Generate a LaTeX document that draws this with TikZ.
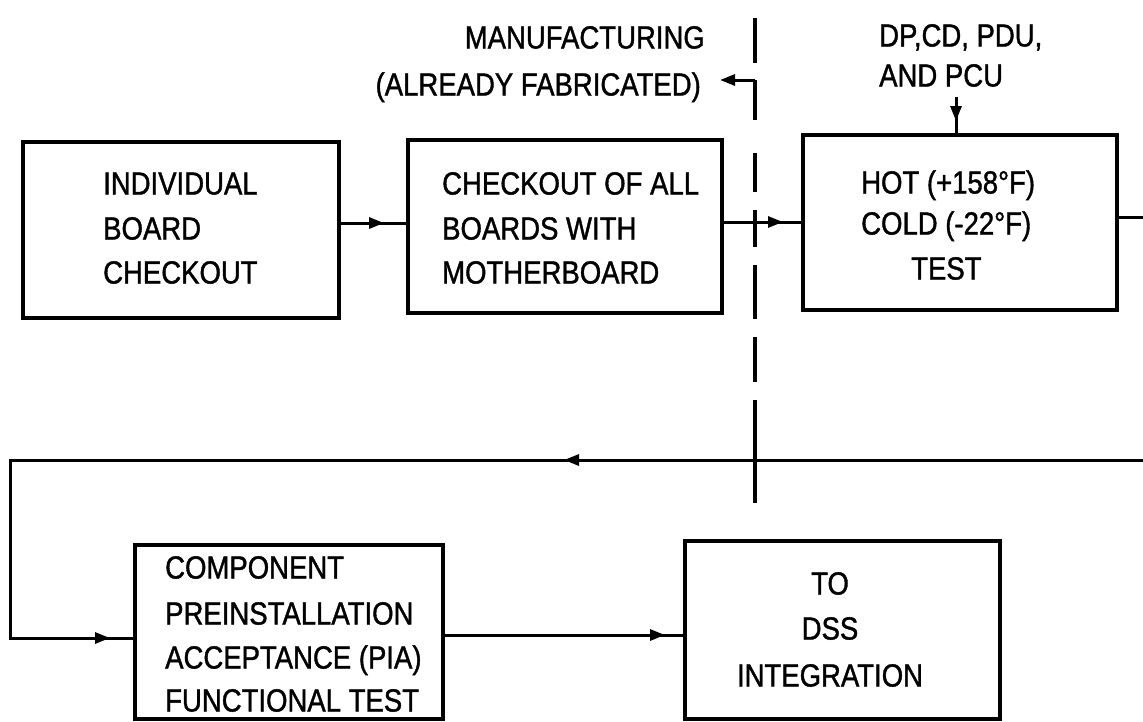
\documentclass[tikz,border=0pt]{standalone}
\usepackage{fontspec}
\setmainfont{Liberation Sans}[FakeStretch=0.86,FakeBold=1.2]
\usetikzlibrary{arrows.meta,decorations.markings}
\tikzset{
  box/.style={draw, line width=4pt, rectangle, inner sep=0pt},
  txt/.style={inner sep=0pt, text height=23pt, text depth=0pt, font=\fontsize{32}{40}\selectfont},
  conn/.style={line width=3pt},
  tipat/.style={postaction={decorate}, decoration={markings, mark=at position #1 with {\arrow{Triangle[length=15pt,width=11pt]}}}},
  divider/.style={line width=3.2pt}
}
\begin{document}
\begin{tikzpicture}[x=1pt,y=-1pt]
\useasboundingbox (0,0) rectangle (1143,721);
% boxes
\node[box, minimum width=316pt, minimum height=176pt] (b1) at (181,230) {};
\node[box, minimum width=314pt, minimum height=173pt] (b2) at (565,226.5) {};
\node[box, minimum width=314pt, minimum height=175pt] (b3) at (960,222.5) {};
\node[box, minimum width=308pt, minimum height=174pt] (b4) at (289,632) {};
\node[box, minimum width=315pt, minimum height=178pt] (b5) at (842.5,630) {};
% box texts
\node[txt, anchor=west] (t11) at (103,183) {INDIVIDUAL};
\node[txt, anchor=west] (t12) at (103,228) {BOARD};
\node[txt, anchor=west] (t13) at (103,272) {CHECKOUT};
\node[txt, anchor=west] (t21) at (442,183) {CHECKOUT OF ALL};
\node[txt, anchor=west] (t22) at (442,228) {BOARDS WITH};
\node[txt, anchor=west] (t23) at (442,272) {MOTHERBOARD};
\node[txt, anchor=west] (t31) at (861,182) {HOT (+158°F)};
\node[txt, anchor=west] (t32) at (861,223) {COLD (-22°F)};
\node[txt, anchor=west] (t33) at (911,268) {TEST};
\node[txt, anchor=west] (t41) at (165,567) {COMPONENT};
\node[txt, anchor=west] (t42) at (165,613) {PREINSTALLATION};
\node[txt, anchor=west] (t43) at (165,657) {ACCEPTANCE (PIA)};
\node[txt, anchor=west] (t44) at (165,700) {FUNCTIONAL TEST};
\node[txt] (t51) at (830,583) {TO};
\node[txt] (t52) at (830,628) {DSS};
\node[txt] (t53) at (830,675) {INTEGRATION};
% top labels
\node[txt, anchor=east] (m1) at (705,37) {MANUFACTURING};
\node[txt, anchor=east] (m2) at (701,84) {(ALREADY FABRICATED)};
\node[txt, anchor=west] (d1) at (879,35) {DP,CD, PDU,};
\node[txt, anchor=west] (d2) at (879,75) {AND PCU};
% divider
\draw[divider] (755,18)--(755,63) (755,80)--(755,120) (755,153)--(755,192)
  (755,210)--(755,247) (755,265)--(755,319) (755,337)--(755,382) (755,400)--(755,503);
% coordinates
\coordinate (corner) at (755,80);
\coordinate (fab) at (720,80);
\coordinate (dpin) at (956,97);
\coordinate (e3) at (1143,217);
\coordinate (e4) at (1143,460);
\coordinate (lc) at (10,460);
% connectors
\draw[conn, -{Triangle[length=15pt,width=11pt]}] (corner) -- (fab);
\draw[conn, tipat=-22pt] ([yshift=7pt]b1.east) -- ([yshift=7pt]b1.east -| b2.west);
\draw[conn, tipat=-18pt] ([yshift=4.5pt]b2.east) -- ([yshift=4.5pt]b2.east -| b3.west);
\draw[conn, tipat=-12pt] (dpin) -- (dpin |- b3.north);
\draw[conn] ([yshift=5.5pt]b3.east) -- (e3);
\draw[conn, tipat=579pt] (e4) -- (lc) |- ([yshift=-6pt]b4.west);
\draw[conn, tipat=-23pt] ([yshift=-6pt]b4.west) ++(-20,0) -- ([yshift=-6pt]b4.west);
\draw[conn, tipat=-18pt] ([yshift=-3pt]b4.east) -- ([yshift=-3pt]b4.east -| b5.west);
\end{tikzpicture}
\end{document}
